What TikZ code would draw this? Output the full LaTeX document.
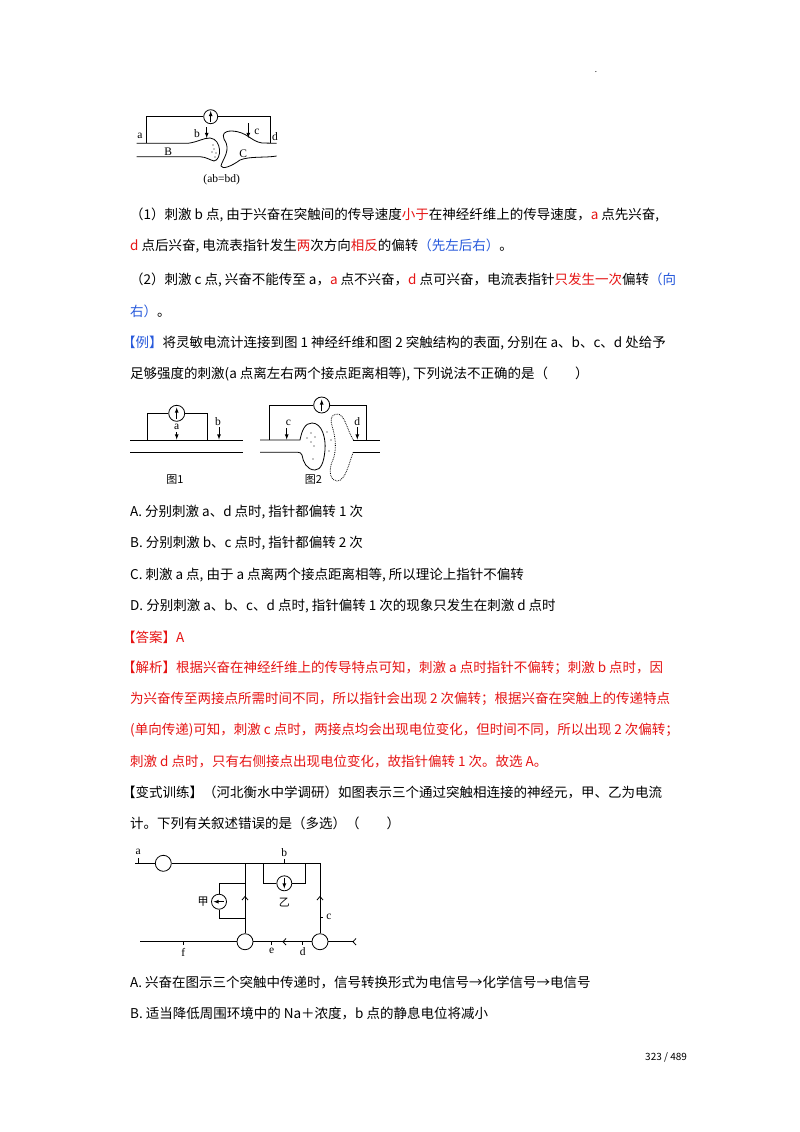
\documentclass[tikz,border=0pt]{standalone}
\usepackage{fontspec}
\setmainfont{Noto Sans CJK SC}
\newfontfamily\lserif{Liberation Serif}
\definecolor{rd}{RGB}{230,20,20}
\definecolor{bl}{RGB}{40,90,220}
\newcommand{\Rd}[1]{\textcolor{rd}{#1}}
\newcommand{\Bl}[1]{\textcolor{bl}{#1}}
\begin{document}
\begin{tikzpicture}[x=1pt,y=-1pt,
  tx/.style={anchor=west,inner sep=0pt,font=\fontsize{13.5}{16}\selectfont},
  lb/.style={inner sep=0pt,font=\lserif\fontsize{11.5}{12}\selectfont},
  cj/.style={inner sep=0pt,font=\fontsize{11}{12}\selectfont},
  wire/.style={line width=0.8pt},
  gal/.style={draw,circle,line width=0.8pt,minimum size=14pt,inner sep=0pt}]
\useasboundingbox[fill=white] (0,0) rectangle (800,1132);
\node[inner sep=0pt,font=\fontsize{8}{9}\selectfont] (dot) at (596,72) {.};
% ---------- figure top
\node[gal] (g1) at (210.7,116.7) {};
\draw[wire,-latex] (210.7,122) -- (210.7,111);
\draw[wire] (g1.west) -- (146.7,116.7) -- (146.7,143.3);
\draw[wire] (g1.east) -- (270,116.7) -- (270,143.3);
\draw[wire] (136.7,143.3) -- (188,143.3) .. controls (198,142) and (203,138) .. (210,138)
  .. controls (222,139) and (222,160) .. (214,161) .. controls (210,160) and (206,157) .. (200,156.7) -- (136.7,156.7);
\draw[wire] (276.7,143.3) -- (262,143) .. controls (250,141) and (248,132) .. (232,131) .. controls (224,131) and (222,134) .. (224,139)
  .. controls (232,150) and (222,160) .. (221,166) .. controls (222,170) and (232,166) .. (240,160) .. controls (250,156) and (265,158) .. (276.7,156);
\foreach \p in {(213,145),(214,149),(216,153),(212,152),(215,157)} \fill \p circle (0.7pt);
\draw[wire,-latex] (206.7,127) -- (206.7,138);
\draw[wire,-latex] (248.3,123) -- (248.3,138);
\node[lb] (la) at (140,135.5) {a};
\node[lb] (lb1) at (197,133.5) {b};
\node[lb] (lc) at (257,131.5) {c};
\node[lb] (ld) at (275,136.5) {d};
\node[lb] (lB) at (168.3,151.5) {B};
\node[lb] (lC) at (243.3,153.3) {C};
\node[lb] (lab) at (221.7,180) {(ab=bd)};
% ---------- text
\node[tx] (t1) at (130,215) {（1）刺激 b 点, 由于兴奋在突触间的传导速度\Rd{小于}在神经纤维上的传导速度，\Rd{a} 点先兴奋,};
\node[tx] (t2) at (130,246) {\Rd{d} 点后兴奋, 电流表指针发生\Rd{两}次方向\Rd{相反}的偏转\Bl{（先左后右）}。};
\node[tx] (t3) at (130,280) {（2）刺激 c 点, 兴奋不能传至 a，\Rd{a} 点不兴奋，\Rd{d} 点可兴奋，电流表指针\Rd{只发生一次}偏转\Bl{（向}};
\node[tx] (t4) at (130,311) {\Bl{右）}。};
\node[tx] (t5) at (122,343) {\Bl{【例】}将灵敏电流计连接到图 1 神经纤维和图 2 突触结构的表面, 分别在 a、b、c、d 处给予};
\node[tx] (t6) at (130,374) {足够强度的刺激(a 点离左右两个接点距离相等), 下列说法不正确的是（\quad\quad）};
% ---------- figure 2/1
\node[gal,minimum width=16pt] (g2) at (176.7,413.3) {};
\draw[wire,-latex] (176.7,419) -- (176.7,407.5);
\draw[wire] (g2.west) -- (147.3,413.3) -- (147.3,440);
\draw[wire] (g2.east) -- (207.3,413.3) -- (207.3,440);
\draw[wire] (130,440) -- (243.3,440);
\draw[wire] (130,452.3) -- (243.3,452.3);
\draw[wire,-latex] (176.7,432) -- (176.7,439.5);
\node[lb] (la2) at (176.7,427) {a};
\draw[wire,-latex] (219,427) -- (219,439.5);
\node[lb] (lb2) at (218,421.5) {b};
\node[cj] (f1) at (175,480) {图1};
\node[gal,minimum width=16pt] (g3) at (321.7,405) {};
\draw[wire,-latex] (321.7,410.5) -- (321.7,399.5);
\draw[wire] (g3.west) -- (269,405) -- (269,440);
\draw[wire] (g3.east) -- (366.7,405) -- (366.7,440);
\draw[wire] (260,440) -- (300,440) .. controls (302,430) and (305,423) .. (312,423)
  .. controls (322,423) and (326,438) .. (325,450) .. controls (324,462) and (321,470) .. (315,470)
  .. controls (307,470) and (303,462) .. (302,455) .. controls (301,453) and (300,452.3) .. (298,452.3) -- (260,452.3);
\draw[wire,densely dotted] (353.3,440) .. controls (347,430) and (345,414) .. (337,414) .. controls (331,414) and (330,420) .. (332,426)
  .. controls (336,438) and (337,452) .. (332,462) .. controls (328,472) and (331,481) .. (337,481)
  .. controls (346,481) and (349,462) .. (353.3,452.3);
\draw[wire] (353.3,440) -- (380,440);
\draw[wire] (353.3,452.3) -- (380,452.3);
\foreach \p in {(311,433),(315,437),(307,438),(311,442),(314,446),(313,459),(327,432),(331,440),(329,451)} \fill \p circle (0.7pt);
\draw[wire,-latex] (286.7,428) -- (286.7,439.5);
\node[lb] (lc2) at (288.3,423) {c};
\draw[wire,-latex] (357.3,427) -- (357.3,439.5);
\node[lb] (ld2) at (357.3,422) {d};
\node[cj] (f2) at (313.3,480) {图2};
% ---------- options
\node[tx] (oA) at (130,512) {A. 分别刺激 a、d 点时, 指针都偏转 1 次};
\node[tx] (oB) at (130,543) {B. 分别刺激 b、c 点时, 指针都偏转 2 次};
\node[tx] (oC) at (130,575) {C. 刺激 a 点, 由于 a 点离两个接点距离相等, 所以理论上指针不偏转};
\node[tx] (oD) at (130,606) {D. 分别刺激 a、b、c、d 点时, 指针偏转 1 次的现象只发生在刺激 d 点时};
\node[tx] (ans) at (122,637) {\Rd{【答案】A}};
\node[tx] (j1) at (122,668) {\Rd{【解析】根据兴奋在神经纤维上的传导特点可知，刺激 a 点时指针不偏转；刺激 b 点时，因}};
\node[tx] (j2) at (130,699) {\Rd{为兴奋传至两接点所需时间不同，所以指针会出现 2 次偏转；根据兴奋在突触上的传递特点}};
\node[tx] (j3) at (130,730) {\Rd{(单向传递)可知，刺激 c 点时，两接点均会出现电位变化，但时间不同，所以出现 2 次偏转；}};
\node[tx] (j4) at (130,761) {\Rd{刺激 d 点时，只有右侧接点出现电位变化，故指针偏转 1 次。故选 A。}};
\node[tx] (v1) at (122,792) {【变式训练】（河北衡水中学调研）如图表示三个通过突触相连接的神经元，甲、乙为电流};
\node[tx] (v2) at (130,823) {计。下列有关叙述错误的是（多选）（\quad\quad）};
% ---------- figure 3
\node[gal,minimum size=16pt] (n1) at (163.3,863.3) {};
\node[gal,minimum size=16pt] (n2) at (245,941.7) {};
\node[gal,minimum size=16pt] (n3) at (320,941.7) {};
\coordinate (a0) at (135,863.3);
\coordinate (tr) at (320,863.3);
\draw[wire] (a0) -- (n1.west);
\draw[wire] (n1.east) -- (tr) -- (n3.north);
\draw[wire] (245,863.3) -- (n2.north);
\draw[wire] (138.3,863.3) -- (138.3,858);
\node[lb] (a3) at (138.3,852) {a};
\draw[wire] (284.3,863.3) -- (284.3,859);
\node[lb] (b3) at (284.3,853) {b};
% 甲
\node[gal,minimum size=15pt] (jia) at (219,901.7) {};
\draw[wire,-latex] (224,901.7) -- (213.5,901.7);
\draw[wire] (245,883.3) -- (219,883.3) -- (jia.north);
\draw[wire] (jia.south) -- (219,918.3) -- (245,918.3);
\node[cj] (ljia) at (203,901.7) {甲};
% 乙
\node[gal,minimum size=15pt] (yi) at (284.3,883.3) {};
\draw[wire,-latex] (284.3,878) -- (284.3,888.5);
\draw[wire] (263.3,863.3) -- (263.3,883.3) -- (yi.west);
\draw[wire] (yi.east) -- (305,883.3) -- (305,863.3);
\node[cj] (lyi) at (284.3,903) {乙};
% synapse marks
\draw[wire] (242,900) -- (245,896.5) -- (248,900);
\draw[wire] (317,900) -- (320,896.5) -- (323,900);
\draw[wire] (320,917.3) -- (323,917.3);
\node[lb] (c3) at (329,916.5) {c};
% bottom line
\coordinate (b0) at (140,941.7);
\coordinate (bend) at (353.3,941.7);
\draw[wire] (b0) -- (n2.west);
\draw[wire] (n2.east) -- (n3.west);
\draw[wire] (n3.east) -- (bend);
\draw[wire] (286,938.5) -- (283,941.7) -- (286,945);
\draw[wire] (356,938.5) -- (353,941.7) -- (356,945);
\draw[wire] (183.3,941.7) -- (183.3,945);
\node[lb] (f3) at (183.3,952) {f};
\draw[wire] (271.7,941.7) -- (271.7,945);
\node[lb] (e3) at (271.7,951) {e};
\draw[wire] (302.7,941.7) -- (302.7,945);
\node[lb] (d3) at (302.7,952) {d};
\node[tx] (qA) at (130,982) {A. 兴奋在图示三个突触中传递时，信号转换形式为电信号→化学信号→电信号};
\node[tx] (qB) at (130,1013) {B. 适当降低周围环境中的 Na＋浓度，b 点的静息电位将减小};
\node[anchor=west,inner sep=0pt,font=\fontsize{10}{12}\selectfont] (pg) at (645,1057) {323 / 489};
\end{tikzpicture}
\end{document}
